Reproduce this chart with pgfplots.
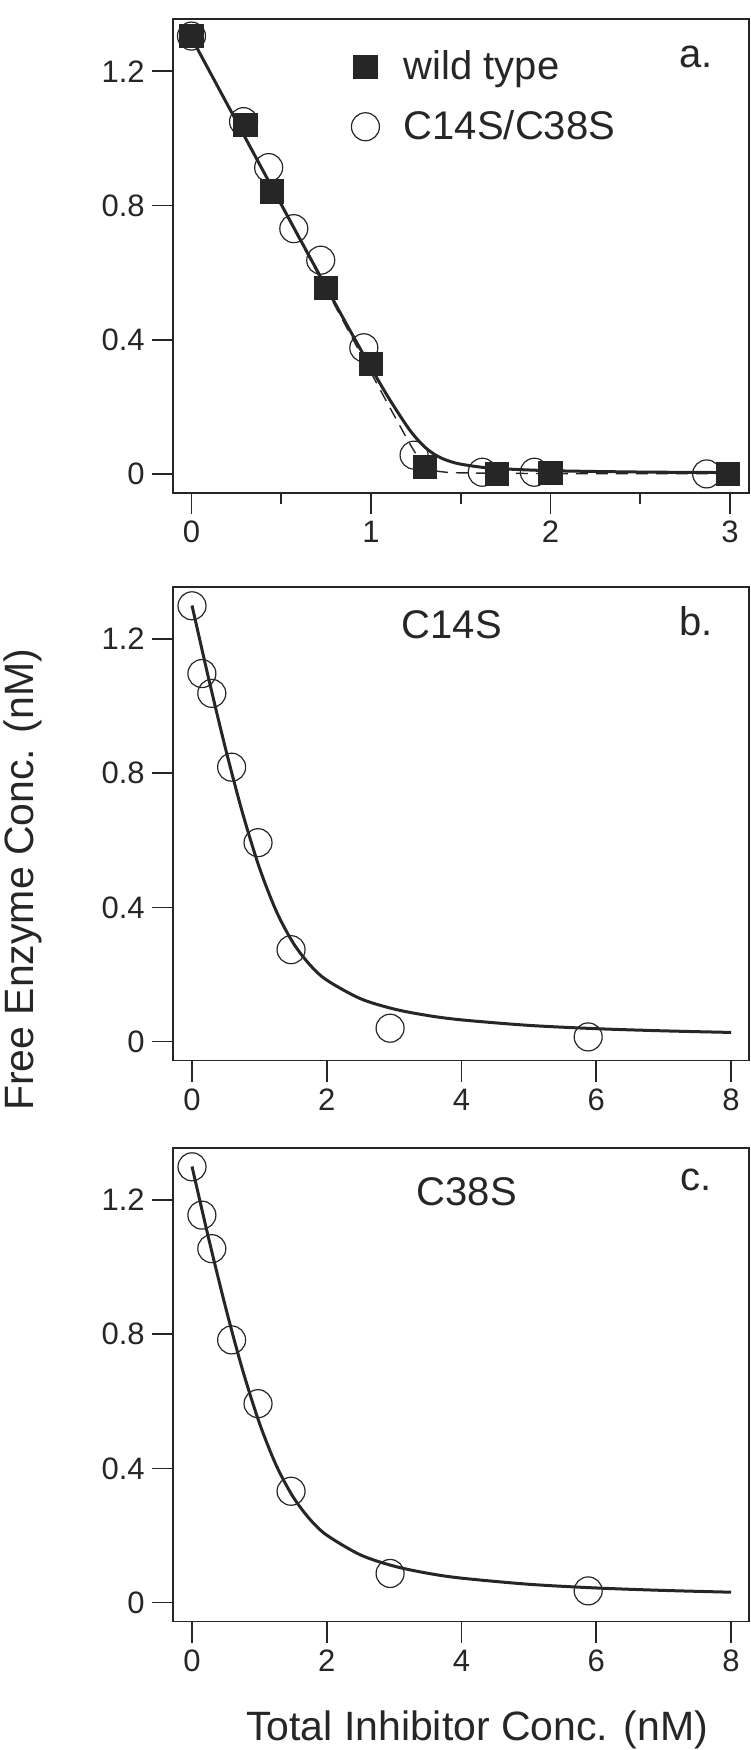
\documentclass[border=0pt]{standalone}
\usepackage{fontspec}
\setmainfont{Liberation Sans}
\usepackage{pgfplots}
\pgfplotsset{compat=1.18}

\definecolor{ink}{gray}{0.15}

\pgfplotsset{
  panel/.style={
    scale only axis, width=288.15pt, height=236.8pt,
    anchor=north west,
    axis line style={line width=0.85pt, ink},
    tick align=outside, tick pos=left,
    major tick length=10.5pt, minor tick length=5.5pt,
    every tick/.style={line width=0.85pt, ink},
    ymin=-0.0566, ymax=1.355,
    ytick={0,0.4,0.8,1.2}, yticklabels={0,0.4,0.8,1.2},
    ticklabel style={font=\fontsize{15.5}{18}\selectfont, text=ink},
    /pgf/number format/assume math mode=true,
    clip=false,
  },
  fit/.style={ink, line width=1.5pt, smooth, no markers},
  open/.style={only marks, mark=o, mark size=7pt, mark options={line width=0.6pt, ink}},
  filled/.style={only marks, mark=square*, mark size=5.8pt, mark options={ink, fill=ink}},
}

\begin{document}
\begin{tikzpicture}
\useasboundingbox (0,0) rectangle (375pt,-875pt);

% ---------- a. ----------
\begin{axis}[panel, at={(86.35pt,-9.65pt)},
    xmin=-0.1047, xmax=3.106,
    xtick={0,1,2,3}, xticklabels={0,1,2,3},
    minor xtick={0.5,1.5,2.5},
    legend image code/.code={\path (-8pt,0pt) (8pt,0pt); \draw[#1] plot coordinates {(0pt,0pt)};},
    legend style={at={(0.306,0.942)}, anchor=north west, draw=none, fill=none,
      inner sep=0pt, outer sep=0pt, row sep=10pt,
      font=\fontsize{20}{24}\selectfont, text=ink,
      /tikz/every odd column/.append style={column sep=9pt}},
    legend cell align=left]
\addlegendimage{filled}
\addlegendentry{wild type}
\addlegendimage{open}
\addlegendentry{C14S/C38S}

% wild type fit (dashed)
\addplot[ink, line width=0.7pt, dash pattern=on 6pt off 4pt, smooth, forget plot] coordinates {
 (0,1.3) (0.5,0.8003) (0.9,0.4008) (1.0,0.3017) (1.1,0.2027) (1.2,0.1056)
 (1.25,0.0603) (1.3,0.0252) (1.35,0.0107) (1.4,0.0061) (1.5,0.0032)
 (2.0,0.001) (3.0,0.0004)};
% C14S/C38S fit (solid)
\addplot[fit, forget plot] coordinates {
 (0,1.3) (0.2,1.101) (0.4,0.9023) (0.6,0.7044) (0.8,0.5082) (0.9,0.4113)
 (1.0,0.3163) (1.1,0.2251) (1.2,0.1426) (1.25,0.1080) (1.3,0.0800)
 (1.35,0.0595) (1.4,0.0453) (1.45,0.0357) (1.5,0.0291) (1.6,0.0210)
 (1.7,0.0162) (2.0,0.0096) (2.5,0.0056) (3.0,0.0040)};
\addplot[open, forget plot] coordinates {
 (0,1.305) (0.29,1.05) (0.43,0.913) (0.57,0.731) (0.72,0.637) (0.96,0.376)
 (1.24,0.056) (1.62,0.005) (1.91,0.005) (2.87,0.0)};
\addplot[filled, forget plot] coordinates {
 (0,1.305) (0.30,1.040) (0.45,0.842) (0.75,0.555) (1.0,0.329) (1.30,0.020)
 (1.70,0.001) (2.0,0.003) (2.99,0.0)};
\node[anchor=base east, font=\fontsize{20}{24}\selectfont, text=ink]
  at ([xshift=-14.5pt, yshift=-23.9pt]rel axis cs:1,1) {a.};
\end{axis}

% ---------- b. ----------
\begin{axis}[panel, at={(86.35pt,-293.5pt)},
    xmin=-0.2865, xmax=8.267,
    xtick={0,2,4,6,8}, xticklabels={0,2,4,6,8}]
\addplot[fit] coordinates {
 (0,1.3) (0.25,1.0796) (0.5,0.8713) (0.75,0.6816) (1.0,0.5185) (1.25,0.3893)
 (1.5,0.2947) (1.75,0.2288) (2.0,0.1833) (2.5,0.1280) (3.0,0.0971)
 (3.5,0.0778) (4.0,0.0648) (5.0,0.0484) (6.0,0.0386) (7.0,0.0321) (8.0,0.0274)};
\addplot[open] coordinates {
 (0,1.299) (0.147,1.097) (0.294,1.038) (0.588,0.818) (0.98,0.593)
 (1.47,0.274) (2.94,0.040) (5.88,0.014)};
\node[anchor=base east, font=\fontsize{20}{24}\selectfont, text=ink]
  at ([xshift=-14.5pt, yshift=-24pt]rel axis cs:1,1) {b.};
\node[anchor=base, font=\fontsize{20}{24}\selectfont, text=ink]
  at ([xshift=139.6pt, yshift=-25.5pt]rel axis cs:0,1) {C14S};
\end{axis}

% ---------- c. ----------
\begin{axis}[panel, at={(86.35pt,-574pt)},
    xmin=-0.2865, xmax=8.267,
    xtick={0,2,4,6,8}, xticklabels={0,2,4,6,8}]
\addplot[fit] coordinates {
 (0,1.3) (0.25,1.0831) (0.5,0.8790) (0.75,0.6941) (1.0,0.5355) (1.25,0.4092)
 (1.5,0.3153) (1.75,0.2484) (2.0,0.2012) (2.5,0.1423) (3.0,0.1087)
 (3.5,0.0875) (4.0,0.0730) (5.0,0.0547) (6.0,0.0437) (7.0,0.0364) (8.0,0.0311)};
\addplot[open] coordinates {
 (0,1.299) (0.147,1.155) (0.294,1.055) (0.588,0.783) (0.98,0.593)
 (1.47,0.332) (2.94,0.087) (5.88,0.035)};
\node[anchor=base east, font=\fontsize{20}{24}\selectfont, text=ink]
  at ([xshift=-15pt, yshift=-21pt]rel axis cs:1,1) {c.};
\node[anchor=base, font=\fontsize{20}{24}\selectfont, text=ink]
  at ([xshift=147pt, yshift=-28.5pt]rel axis cs:0,1) {C38S};
\end{axis}

% axis titles
\node[rotate=90, anchor=base, font=\fontsize{20.5}{24}\selectfont, text=ink]
  at (16.5pt,-440pt) {Free Enzyme Conc. (nM)};
\node[anchor=base, font=\fontsize{20.5}{24}\selectfont, text=ink]
  at (238.5pt,-870pt) {Total Inhibitor Conc. (nM)};
\end{tikzpicture}
\end{document}
